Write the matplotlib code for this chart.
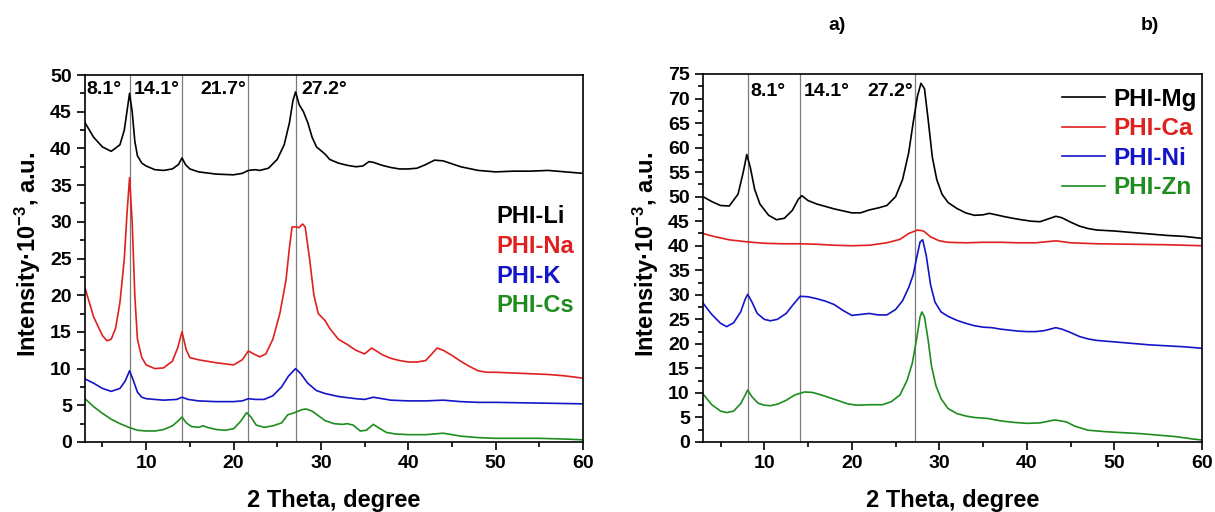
"""XRD patterns of PHI salts: alkali (left) and M2+ (right)."""

import matplotlib
matplotlib.use("Agg")
import matplotlib.pyplot as plt
from matplotlib.ticker import MultipleLocator

plt.rcParams["font.family"] = ["Liberation Sans", "DejaVu Sans"]
plt.rcParams["font.weight"] = "bold"
plt.rcParams["mathtext.fontset"] = "custom"
plt.rcParams["mathtext.rm"] = "Liberation Sans:bold"
plt.rcParams["mathtext.default"] = "rm"

# ---- left panel: alkali metal salts ----
li_x = [3, 4, 5, 6, 7, 7.5, 7.8, 8.1, 8.4, 8.7, 9, 9.5, 10, 11, 12, 13, 13.7, 14.1, 14.5, 15, 16, 18,
        20, 21, 21.7, 22.5, 23, 24, 25, 25.8, 26.4, 26.8, 27.1, 27.5, 28, 28.5, 29, 29.5, 30.5, 31,
        32, 33, 34, 34.8, 35.5, 36, 37, 38, 39, 40, 41, 42, 43, 44, 45, 46, 48, 50, 52, 54, 56, 58, 60]
li_y = [43.5, 41.5, 40.2, 39.6, 40.5, 42.5, 45, 47.5, 45, 41, 39, 38, 37.6, 37.1, 37, 37.2, 37.8, 38.7,
        37.8, 37.2, 36.8, 36.5, 36.4, 36.6, 37.0, 37.1, 37.0, 37.3, 38.5, 40.5, 43.5, 46.5, 47.7, 46,
        45, 43.5, 41.5, 40.2, 39.2, 38.5, 38, 37.7, 37.5, 37.6, 38.2, 38.1, 37.7, 37.4, 37.2, 37.2,
        37.3, 37.8, 38.4, 38.3, 37.9, 37.5, 37.0, 36.8, 36.9, 36.9, 37.0, 36.8, 36.6]

na_x = [3, 4, 5, 5.5, 6, 6.5, 7, 7.5, 7.8, 8.1, 8.4, 8.7, 9, 9.5, 10, 11, 12, 13, 13.6, 14.1, 14.6, 15,
        16, 18, 20, 21, 21.7, 22.3, 23, 23.7, 24.5, 25.3, 26, 26.4, 26.7, 27.2, 27.5, 27.9, 28.2, 28.7,
        29.2, 29.7, 30.5, 31, 32, 33, 34, 35, 35.8, 36.5, 37, 38, 39, 40, 41, 42, 42.7, 43.3, 44, 45,
        46, 47, 48, 49, 50, 52, 54, 56, 58, 60]
na_y = [21, 17, 14.5, 13.8, 14, 15.5, 19, 25, 31, 36, 30, 20, 14, 11.5, 10.5, 10, 10.1, 11, 12.8, 15,
        12.5, 11.5, 11.2, 10.8, 10.5, 11.2, 12.4, 12.0, 11.6, 12.0, 14, 17.5, 22, 26.5, 29.3, 29.3,
        29.2, 29.7, 29.3, 25, 20, 17.5, 16.5, 15.5, 14, 13.3, 12.5, 12.0, 12.8, 12.3, 11.9, 11.4, 11.1,
        10.9, 10.9, 11.1, 12.0, 12.8, 12.5, 11.8, 11.0, 10.3, 9.7, 9.5, 9.5, 9.4, 9.3, 9.2, 9.0, 8.7]

k_x = [3, 4, 5, 6, 7, 7.6, 8.1, 8.5, 9, 9.5, 10, 12, 13.5, 14.1, 14.8, 16, 18, 20, 21, 21.7, 22.5, 23.5,
       24.5, 25.5, 26.3, 27.1, 27.7, 28.5, 29.5, 30.5, 32, 34, 35, 36, 37, 38, 40, 42, 44, 46, 48, 50,
       55, 60]
k_y = [8.6, 8.0, 7.3, 6.9, 7.3, 8.3, 9.7, 8.5, 6.8, 6.1, 5.9, 5.7, 5.8, 6.1, 5.8, 5.6, 5.5, 5.5, 5.6,
       5.9, 5.8, 5.8, 6.3, 7.5, 9, 10.0, 9.3, 8, 7, 6.6, 6.2, 5.9, 5.8, 6.1, 5.9, 5.7, 5.6, 5.6, 5.7,
       5.5, 5.4, 5.4, 5.3, 5.2]

cs_x = [3, 4, 5, 6, 7, 8, 9, 10, 11, 12, 13, 13.6, 14.1, 14.6, 15.2, 16, 16.5, 17, 18, 19, 20, 20.8,
        21.5, 22, 22.6, 23.5, 24.5, 25.5, 26.2, 27, 27.8, 28.3, 29, 29.8, 30.5, 31.5, 32.5, 33, 33.7,
        34.5, 35.2, 36, 36.8, 37.5, 38.5, 40, 42, 44, 45, 46, 48, 50, 52, 55, 58, 60]
cs_y = [5.9, 4.8, 3.9, 3.1, 2.5, 2.0, 1.6, 1.5, 1.5, 1.7, 2.2, 2.8, 3.4, 2.6, 2.1, 2.0, 2.2, 2.0, 1.7,
        1.6, 1.8, 2.8, 4.0, 3.4, 2.3, 2.0, 2.2, 2.6, 3.7, 4.0, 4.4, 4.5, 4.2, 3.5, 2.9, 2.5, 2.4, 2.5,
        2.3, 1.5, 1.6, 2.4, 1.8, 1.3, 1.1, 1.0, 1.0, 1.2, 1.0, 0.8, 0.6, 0.5, 0.5, 0.5, 0.4, 0.3]

# ---- right panel: divalent metal salts ----
mg_x = [3, 4, 5, 6, 7, 7.6, 8.0, 8.4, 8.9, 9.5, 10.5, 11.4, 12.3, 13.2, 13.9, 14.3, 15, 16, 17, 18,
        19, 20, 21, 22, 23, 24, 25, 25.8, 26.5, 27, 27.5, 27.9, 28.3, 28.7, 29.2, 29.7, 30.3, 31, 32,
        33, 34, 35, 35.7, 36.5, 37.5, 39, 40.5, 41.5, 42.5, 43.3, 44, 45, 46, 47, 48, 50, 52, 54, 56,
        58, 60]
mg_y = [50.0, 49.0, 48.2, 48.1, 50.5, 55, 58.6, 56, 51.5, 48.5, 46.2, 45.3, 45.6, 47.2, 49.5, 50.2,
        49.2, 48.5, 48.0, 47.5, 47.1, 46.7, 46.7, 47.3, 47.7, 48.2, 50, 53.5, 59, 65, 70.5, 73.1, 72,
        66, 58, 53.5, 50.5, 48.8, 47.6, 46.7, 46.2, 46.3, 46.6, 46.3, 45.9, 45.4, 45.0, 44.9, 45.5,
        46.0, 45.7, 44.8, 44.0, 43.5, 43.2, 43.0, 42.7, 42.4, 42.1, 41.9, 41.5]

ca_x = [3, 4, 5, 6, 8, 10, 12, 14, 16, 18, 20, 22, 24, 25.5, 26.5, 27.5, 28.2, 29, 30, 31, 33, 35, 37,
        39, 41, 43.3, 45, 48, 52, 56, 60]
ca_y = [42.5, 42.0, 41.6, 41.2, 40.8, 40.5, 40.4, 40.4, 40.3, 40.1, 40.0, 40.1, 40.6, 41.3, 42.5,
        43.2, 43.0, 41.8, 41.0, 40.7, 40.6, 40.7, 40.7, 40.6, 40.6, 41.0, 40.6, 40.4, 40.3, 40.2, 40.0]

ni_x = [3, 4, 5, 5.7, 6.5, 7.3, 7.8, 8.1, 8.6, 9.2, 10, 10.7, 11.5, 12.5, 13.3, 14.1, 15, 16, 17, 18,
        19, 20, 21, 22, 23, 24, 25, 25.8, 26.5, 27, 27.4, 27.8, 28.1, 28.5, 29, 29.5, 30.2, 31, 32, 33,
        34, 35, 36, 37, 38, 39, 40, 41, 42, 43.3, 44, 45, 46, 47, 48, 50, 52, 54, 56, 58, 60]
ni_y = [28.3, 26.0, 24.2, 23.5, 24.3, 26.5, 29, 30.1, 28.5, 26.2, 25.0, 24.7, 25.0, 26.2, 28.0, 29.7,
        29.6, 29.2, 28.7, 28.0, 26.8, 25.8, 26.0, 26.2, 25.9, 25.9, 27.0, 28.8, 31.5, 34, 37.5, 40.8,
        41.2, 38, 32, 28.5, 26.5, 25.6, 24.8, 24.2, 23.7, 23.4, 23.3, 23.0, 22.8, 22.6, 22.5, 22.5,
        22.7, 23.3, 23.0, 22.3, 21.5, 21.0, 20.7, 20.4, 20.1, 19.8, 19.6, 19.4, 19.1]

zn_x = [3, 4, 5, 5.7, 6.5, 7.3, 7.8, 8.1, 8.6, 9.3, 10, 10.7, 11.5, 12.5, 13.5, 14.6, 15.5, 16.5, 17.5,
        18.5, 19.5, 20.5, 22, 23.5, 24.5, 25.5, 26.3, 26.9, 27.4, 27.8, 28.0, 28.3, 28.7, 29.1, 29.6,
        30.2, 31, 32, 33, 34, 35.5, 37, 38.5, 40, 41.5, 43.2, 44.5, 45.5, 47, 49, 51, 53, 55, 57, 59, 60]
zn_y = [9.8, 7.6, 6.3, 6.0, 6.3, 7.8, 9.5, 10.6, 9.2, 7.9, 7.5, 7.4, 7.7, 8.5, 9.6, 10.2, 10.1, 9.6,
        9.0, 8.4, 7.8, 7.5, 7.6, 7.6, 8.2, 9.6, 12.5, 16, 21, 25.5, 26.5, 25.5, 21, 15.5, 11.5, 8.8,
        6.8, 5.8, 5.3, 5.0, 4.8, 4.3, 4.0, 3.8, 3.9, 4.5, 4.1, 3.2, 2.4, 2.1, 1.9, 1.7, 1.4, 1.1, 0.6,
        0.4]

left_series = [("PHI-Li", li_x, li_y), ("PHI-Na", na_x, na_y), ("PHI-K", k_x, k_y), ("PHI-Cs", cs_x, cs_y)]
right_series = [("PHI-Mg", mg_x, mg_y), ("PHI-Ca", ca_x, ca_y), ("PHI-Ni", ni_x, ni_y), ("PHI-Zn", zn_x, zn_y)]
colors = ["black", "#e0201e", "#1414c8", "#1e8c1e"]

left_peaks = [8.1, 14.1, 21.7, 27.2]
right_peaks = [8.1, 14.1, 27.2]
left_peak_labels = [(3.2, "8.1°", "left"), (8.6, "14.1°", "left"), (21.5, "21.7°", "right"), (27.8, "27.2°", "left")]
right_peak_labels = [(8.4, "8.1°", "left"), (14.5, "14.1°", "left"), (27.0, "27.2°", "right")]

fig = plt.figure(figsize=(12.15, 5.12), dpi=100)
ax1 = fig.add_axes([85 / 1215, 70 / 512, 498 / 1215, 367 / 512])
ax2 = fig.add_axes([703 / 1215, 70 / 512, 499 / 1215, 368 / 512])


def style_axis(ax, ymax, ymajor):
    ax.set_xlim(3, 60)
    ax.set_ylim(0, ymax)
    ax.xaxis.set_major_locator(MultipleLocator(10))
    ax.xaxis.set_minor_locator(MultipleLocator(5))
    ax.yaxis.set_major_locator(MultipleLocator(ymajor))
    ax.yaxis.set_minor_locator(MultipleLocator(ymajor / 2))
    ax.tick_params(which="both", direction="out", top=False, right=False, labelsize=14, width=1.2)
    ax.tick_params(which="major", length=6)
    ax.tick_params(which="minor", length=3.5)
    for sp in ax.spines.values():
        sp.set_linewidth(1.2)
    ax.set_xlabel("2 Theta, degree", fontsize=17, fontweight="bold", va="center")
    ax.xaxis.set_label_coords(0.5, -0.16)
    ax.set_ylabel("Intensity·10$^{-3}$, a.u.", fontsize=17, fontweight="bold", va="center")
    ax.yaxis.set_label_coords(-0.114, 0.51)


for (name, xs, ys), c in zip(left_series, colors):
    ax1.plot(xs, ys, color=c, lw=1.2, label=name)
for p in left_peaks:
    ax1.axvline(p, color="#7a7a7a", lw=0.9, zorder=0)
for x, t, ha in left_peak_labels:
    ax1.text(x, 48.0, t, ha=ha, va="center", fontsize=14, fontweight="bold")
style_axis(ax1, 50, 5)
leg1 = ax1.legend(loc="upper left", bbox_to_anchor=(0.826, 0.646), frameon=False, handlelength=0,
                  handletextpad=0, borderpad=0, borderaxespad=0, labelspacing=0.29,
                  prop={"size": 17, "weight": "bold"})
for h, t, c in zip(leg1.legend_handles, leg1.get_texts(), colors):
    h.set_visible(False)
    t.set_color(c)

for (name, xs, ys), c in zip(right_series, colors):
    ax2.plot(xs, ys, color=c, lw=1.2, label=name)
for p in right_peaks:
    ax2.axvline(p, color="#7a7a7a", lw=0.9, zorder=0)
for x, t, ha in right_peak_labels:
    ax2.text(x, 71.4, t, ha=ha, va="center", fontsize=14, fontweight="bold")
style_axis(ax2, 75, 5)
leg2 = ax2.legend(loc="upper left", bbox_to_anchor=(0.72, 0.963), frameon=False, handlelength=1.75,
                  handletextpad=0.35, borderpad=0, borderaxespad=0, labelspacing=0.27,
                  prop={"size": 17.5, "weight": "bold"})
for t, c in zip(leg2.get_texts(), colors):
    t.set_color(c)

fig.text(837 / 1215, 1 - 25 / 512, "a)", ha="center", va="center", fontsize=14, fontweight="bold")
fig.text(1150 / 1215, 1 - 25 / 512, "b)", ha="center", va="center", fontsize=14, fontweight="bold")

fig.savefig("out.png", dpi=100)
